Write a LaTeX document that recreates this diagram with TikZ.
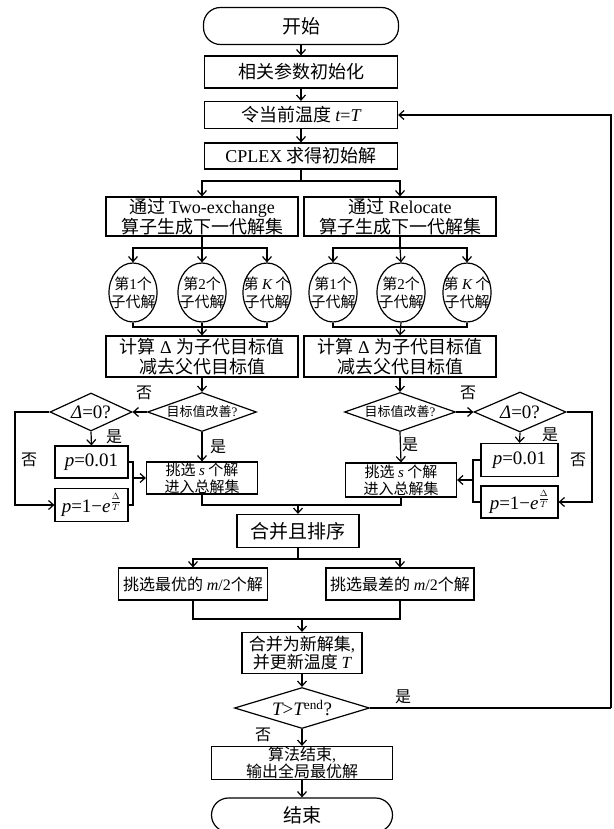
\documentclass[tikz,border=0pt]{standalone}
\usepackage{fontspec}
\setmainfont{Noto Sans CJK SC}
\newfontfamily\lat{Liberation Serif}
\usetikzlibrary{shapes.geometric,arrows.meta}
\newcommand\vi[1]{{\lat\itshape #1}}
\newcommand\la[1]{{\lat #1}}
\newcommand\fs[2]{\fontsize{#1}{#2}\selectfont}
\tikzset{
  ln/.style={line width=1.2pt},
  arr/.style={line width=1.2pt,-{Straight Barb[length=5pt,width=9pt]}},
  box/.style={draw,line width=1.2pt,rectangle,inner sep=0pt,align=center,font=\fs{18}{20}},
  term/.style={draw,line width=1.2pt,rectangle,rounded corners=17pt,inner sep=0pt,font=\fs{19}{21}},
  ell/.style={draw,line width=1.2pt,ellipse,inner sep=0pt,minimum width=48pt,minimum height=59pt},
  elltxt/.style={inner sep=0pt,align=center,font=\fs{15}{18}},
  dia/.style={draw,line width=1.2pt,diamond,inner sep=0pt},
  lab/.style={inner sep=0pt,font=\fs{16}{16}}
}
\begin{document}
\begin{tikzpicture}[x=1pt,y=-1pt]
\useasboundingbox (0,0) rectangle (613,829);
\fill[white] (0,0) rectangle (613,829);
\clip (0,0) rectangle (613,829);

% main column top
\node[term,minimum width=195pt,minimum height=37pt] (start) at (301,26) {开始};
\node[box,minimum width=193pt,minimum height=32pt] (init) at (301,72) {相关参数初始化};
\node[box,minimum width=193pt,minimum height=27pt] (settemp) at (301,115) {令当前温度 \vi{t}\la{=}\vi{T}};
\node[box,minimum width=193pt,minimum height=26pt] (cplex) at (301,156) {\la{CPLEX} 求得初始解};

% operators
\node[box,minimum width=192pt,minimum height=39pt] (twoex) at (202,216.5) {通过 \la{Two-exchange}\\算子生成下一代解集};
\node[box,minimum width=192pt,minimum height=39pt] (reloc) at (400,216.5) {通过 \la{Relocate}\\算子生成下一代解集};

% children
\node[ell] (cL1) at (133,292.5) {};
\node[ell] (cL2) at (202,292.5) {};
\node[ell] (cL3) at (267,292.5) {};
\node[ell] (cR1) at (333,292.5) {};
\node[ell] (cR2) at (401,292.5) {};
\node[ell] (cR3) at (467,292.5) {};
\node[elltxt] (tL1) at (cL1) {第\la{1}个\\子代解};
\node[elltxt] (tL2) at (cL2) {第\la{2}个\\子代解};
\node[elltxt] (tL3) at (cL3) {第 \vi{K} 个\\子代解};
\node[elltxt] (tR1) at (cR1) {第\la{1}个\\子代解};
\node[elltxt] (tR2) at (cR2) {第\la{2}个\\子代解};
\node[elltxt] (tR3) at (cR3) {第 \vi{K} 个\\子代解};

% compute
\node[box,minimum width=192pt,minimum height=41pt] (compL) at (202,356.5) {计算\la{ Δ }为子代目标值\\减去父代目标值};
\node[box,minimum width=192pt,minimum height=41pt] (compR) at (400,356.5) {计算\la{ Δ }为子代目标值\\减去父代目标值};

% left decisions
\node[dia,minimum width=109pt,minimum height=39pt] (dgL) at (202,412) {};
\node[inner sep=0pt,font=\fs{13}{13}] (dgLt) at (dgL) {目标值改善\la{?}};
\node[dia,minimum width=82pt,minimum height=38pt] (dzL) at (91,412) {};
\node[inner sep=0pt,font=\fs{19}{19}] (dzLt) at (dzL) {\vi{Δ}\la{=0?}};
\node[box,minimum width=73pt,minimum height=32pt,font=\fs{19}{19}] (p1L) at (91.5,462) {\vi{p}\la{=0.01}};
\node[box,minimum width=73pt,minimum height=33pt,font=\fs{19}{19}] (p2L) at (91.5,505) {\vi{p}\la{=1−}\vi{e}$^{\frac{\Delta}{T}}$};
\node[box,minimum width=111pt,minimum height=32pt,font=\fs{15}{17}] (pickL) at (202,478) {挑选 \vi{s} 个解\\进入总解集};

% right decisions
\node[dia,minimum width=111pt,minimum height=39pt] (dgR) at (400,412) {};
\node[inner sep=0pt,font=\fs{13}{13}] (dgRt) at (dgR) {目标值改善\la{?}};
\node[dia,minimum width=92pt,minimum height=40pt] (dzR) at (520,412) {};
\node[inner sep=0pt,font=\fs{19}{19}] (dzRt) at (dzR) {\vi{Δ}\la{=0?}};
\node[box,minimum width=77pt,minimum height=33pt,font=\fs{19}{19}] (p1R) at (519.5,460) {\vi{p}\la{=0.01}};
\node[box,minimum width=77pt,minimum height=32pt,font=\fs{19}{19}] (p2R) at (519.5,502) {\vi{p}\la{=1−}\vi{e}$^{\frac{\Delta}{T}}$};
\node[box,minimum width=111pt,minimum height=34pt,font=\fs{15}{17}] (pickR) at (401,480) {挑选 \vi{s} 个解\\进入总解集};

% lower part
\node[box,minimum width=122pt,minimum height=33pt,font=\fs{19}{21}] (merge) at (298,531) {合并且排序};
\node[box,minimum width=149pt,minimum height=32pt,font=\fs{16}{18}] (best) at (193,584) {挑选最优的 \vi{m}\la{/2}个解};
\node[box,minimum width=148pt,minimum height=32pt,font=\fs{16}{18}] (worst) at (400,584) {挑选最差的 \vi{m}\la{/2}个解};
\node[box,minimum width=120pt,minimum height=41pt,font=\fs{17}{18}] (newset) at (302,653) {合并为新解集\la{,}\\并更新温度 \vi{T}};
\node[dia,minimum width=135pt,minimum height=41pt] (dT) at (302,708) {};
\node[inner sep=0pt,font=\fs{19}{19}] (dTt) at (dT) {\vi{T}\la{>}\vi{T}\la{\textsuperscript{end}?}};
\node[box,minimum width=181pt,minimum height=33pt,font=\fs{16}{17}] (endalg) at (302,763) {算法结束\la{,}\\输出全局最优解};
\node[term,minimum width=181pt,minimum height=34pt] (stop) at (302,815) {结束};

% coordinates
\coordinate (s1) at (301,181);
\coordinate (sL) at (202,248);
\coordinate (sR) at (400,248);
\coordinate (jL) at (202,327);
\coordinate (jR) at (401,327);
\coordinate (lL) at (15,412);
\coordinate (bL) at (133,478);
\coordinate (rR) at (592,412);
\coordinate (bR) at (473,480);
\coordinate (jM) at (298,505);
\coordinate (jS) at (298,559);
\coordinate (jB) at (302,619);
\coordinate (fb) at (611,708);

% connectors
\draw[arr] (start) -- (init);
\draw[arr] (init) -- (settemp);
\draw[arr] (settemp) -- (cplex);
\draw[ln] (cplex) -- (s1);
\draw[arr] (s1) -| (twoex.north);
\draw[arr] (s1) -| (reloc.north);

\draw[ln] (twoex) -- (sL);
\draw[arr] (sL) -| (cL1.north);
\draw[arr] (sL) -- (cL2.north);
\draw[arr] (sL) -| (cL3.north);
\draw[ln] (reloc) -- (sR);
\draw[arr] (sR) -| (cR1.north);
\draw[arr] (sR) -- (cR2.north);
\draw[arr] (sR) -| (cR3.north);

\draw[ln] (cL1.south) |- (jL) -| (cL3.south);
\draw[arr] (cL2.south) -- (compL.north);
\draw[ln] (cR1.south) |- (jR) -| (cR3.south);
\draw[arr] (cR2.south) -- (compR.north);

\draw[arr] (compL) -- (dgL);
\draw[arr] (dgL.west) -- (dzL.east);
\draw[arr] (dzL.south) -- (p1L.north);
\draw[arr] (dzL.west) -- (lL) |- (p2L.west);
\draw[ln] (p1L.east) -| (bL) |- (p2L.east);
\draw[arr] (bL) -- (pickL.west);
\draw[arr] (dgL.south) -- (pickL.north);

\draw[arr] (compR) -- (dgR);
\draw[arr] (dgR.east) -- (dzR.west);
\draw[arr] (dzR.south) -- (p1R.north);
\draw[arr] (dzR.east) -- (rR) |- (p2R.east);
\draw[ln] (p1R.west) -| (bR) |- (p2R.west);
\draw[arr] (bR) -- (pickR.east);
\draw[arr] (dgR.south) -- (pickR.north);

\draw[ln] (pickL.south) |- (jM) -| (pickR.south);
\draw[arr] (jM) -- (merge.north);
\draw[ln] (merge) -- (jS);
\draw[arr] (jS) -| (best.north);
\draw[arr] (jS) -| (worst.north);
\draw[ln] (best.south) |- (jB) -| (worst.south);
\draw[arr] (jB) -- (newset.north);
\draw[arr] (newset) -- (dT);
\draw[ln] (dT.east) -- (fb);
\draw[arr] (fb) |- (settemp.east);
\draw[arr] (dT.south) -- (endalg.north);
\draw[arr] (endalg) -- (stop);

% labels
\node[lab] (n1) at (144,393) {否};
\node[lab] (y1) at (114,437) {是};
\node[lab] (n2) at (29,460) {否};
\node[lab] (y2) at (218,447) {是};
\node[lab] (n3) at (468,393) {否};
\node[lab] (y3) at (550,435) {是};
\node[lab] (n4) at (578,460) {否};
\node[lab] (y4) at (410,445) {是};
\node[lab] (y5) at (403,697) {是};
\node[lab] (n5) at (263,735) {否};
\end{tikzpicture}
\end{document}
